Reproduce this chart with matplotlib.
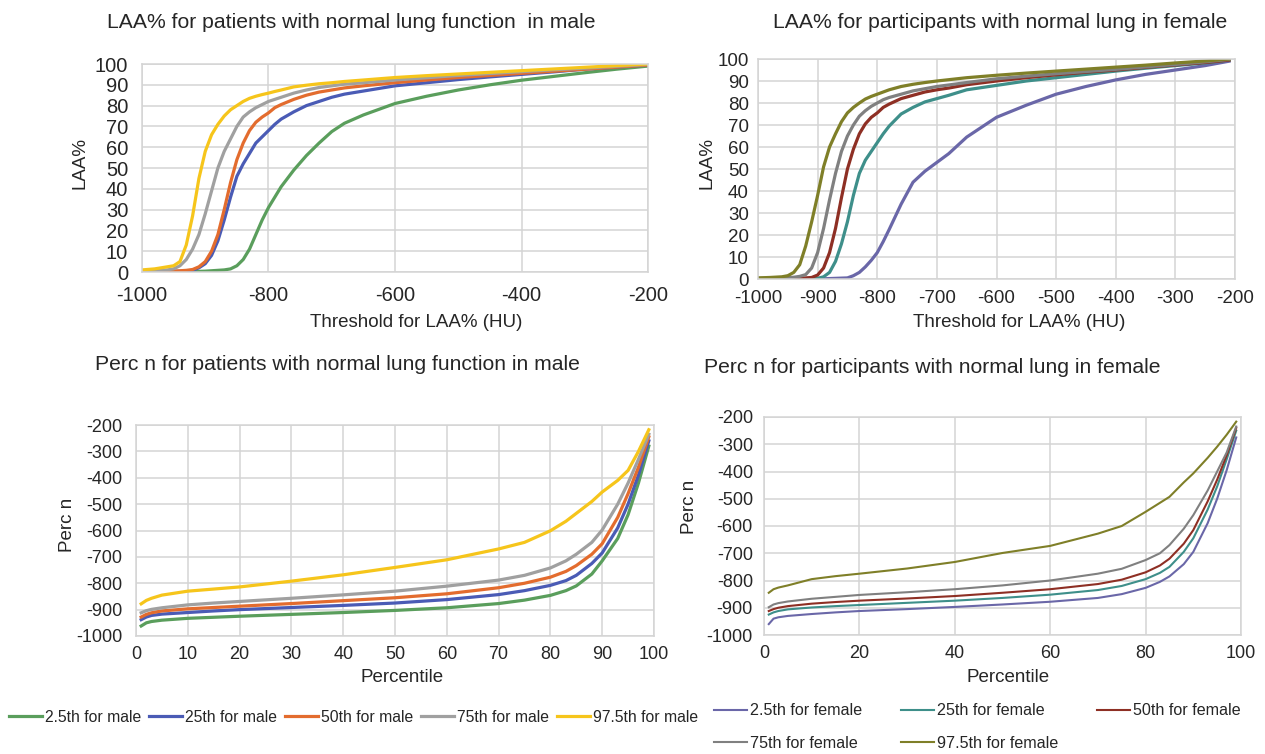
import matplotlib
matplotlib.use('Agg')
import matplotlib.pyplot as plt

plt.rcParams['font.family'] = ['Liberation Sans', 'DejaVu Sans']
plt.rcParams['axes.unicode_minus'] = False

# 阈值 (HU)
hu = [-1000, -980, -960, -950, -940, -930, -920, -910, -900, -890, -880, -870,
      -860, -850, -840, -830, -820, -810, -800, -790, -780, -760, -740, -720,
      -700, -680, -650, -600, -550, -500, -450, -400, -350, -300, -250, -200]
hu_f = hu[:-1] + [-210]

# LAA% male
laa_m_025 = [0, 0, 0.1, 0.1, 0.2, 0.2, 0.3, 0.3, 0.4, 0.6, 0.8, 1.0, 1.5, 3, 6, 11, 18, 25,
             31, 36, 41, 49, 56, 62, 67.5, 71.5, 75.5, 81, 84.5, 87.5, 90, 92.2, 94, 95.8, 97.5, 99]
laa_m_25 = [0, 0, 0.1, 0.2, 0.3, 0.4, 0.8, 2, 4, 8, 15, 25, 36, 46, 52, 57, 62, 65,
            68, 71, 73.5, 77, 80, 82, 84, 85.5, 87, 89.5, 91, 92.5, 93.8, 95, 96.2, 97.5, 98.5, 99.5]
laa_m_50 = [0.2, 0.3, 0.4, 0.5, 0.6, 0.8, 1.2, 2.5, 5, 10, 18, 30, 43, 54, 62, 68, 72, 74.5,
            76.5, 79, 80.5, 83, 85, 86.5, 87.5, 88.5, 89.5, 91, 92.3, 93.5, 94.5, 95.5, 96.5, 97.5, 98.5, 99.5]
laa_m_75 = [0.5, 0.7, 1, 1.5, 3, 6, 11, 18, 28, 39, 50, 58, 64, 70, 74.5, 77, 79, 80.5,
            82, 83, 84, 86, 87.5, 88.7, 89.5, 90.3, 91, 92.3, 93.4, 94.5, 95.4, 96.3, 97.2, 98, 98.9, 99.8]
laa_m_975 = [1, 1.5, 2.5, 3, 5, 13, 27, 45, 58, 66, 71, 75, 78, 80, 82, 83.5, 84.5, 85.3,
             86, 86.8, 87.5, 89, 89.8, 90.5, 91, 91.6, 92.3, 93.5, 94.4, 95.2, 96, 96.8, 97.6, 98.4, 99.2, 100]

# LAA% female
laa_f_025 = [0, 0, 0, 0, 0, 0, 0, 0.1, 0.1, 0.1, 0.2, 0.3, 0.4, 0.5, 1.5, 3, 5.5, 8.5,
             12, 17, 22.5, 34, 44, 49, 53, 57, 64.5, 73.5, 79, 84, 87.5, 90.5, 93, 95, 97, 99]
laa_f_25 = [0.1, 0.1, 0.1, 0.1, 0.1, 0.2, 0.2, 0.2, 0.3, 1, 3, 8, 16, 26, 38, 48, 54, 58,
            62, 66, 69.5, 75, 78, 80.5, 82, 83.5, 86, 88, 90, 91.5, 93, 94.5, 95.8, 97, 98.2, 99.5]
laa_f_50 = [0.2, 0.2, 0.3, 0.3, 0.3, 0.4, 0.5, 0.7, 1.8, 5, 12, 23, 37, 50, 59, 66, 70.5, 73.5,
            75.5, 78, 79.5, 82, 83.5, 85, 86, 86.8, 88.3, 90, 91.5, 92.8, 94, 95, 96.2, 97.3, 98.4, 99.5]
laa_f_75 = [0.3, 0.4, 0.5, 0.6, 0.8, 1.2, 2, 5, 12, 23, 36, 48, 58, 65, 70, 74, 76.5, 78.5,
            80, 81.5, 82.5, 84, 85.5, 86.5, 87.5, 88.2, 89.3, 91, 92.2, 93.3, 94.3, 95.3, 96.4, 97.5, 98.7, 99.8]
laa_f_975 = [0.5, 0.7, 1, 1.5, 3, 6.5, 15, 26, 38, 51, 60, 66, 71.5, 75.5, 78, 80, 81.8, 83,
             84, 85, 86, 87.5, 88.5, 89.3, 90, 90.6, 91.5, 92.6, 93.6, 94.5, 95.4, 96.3, 97.2, 98.2, 99.1, 100]

# Perc n
pct = [1, 2, 3, 5, 10, 15, 20, 30, 40, 50, 60, 70, 75, 80, 83, 85, 88, 90, 93, 95, 97, 99]
perc_m_025 = [-962, -950, -945, -940, -933, -929, -925, -918, -911, -903, -893, -877, -864, -846,
              -828, -810, -765, -715, -630, -540, -420, -280]
perc_m_25 = [-938, -928, -922, -917, -911, -905, -900, -892, -884, -875, -862, -843, -828, -808,
             -790, -770, -725, -685, -590, -500, -390, -260]
perc_m_50 = [-928, -918, -912, -905, -897, -892, -887, -877, -866, -855, -840, -817, -800, -777,
             -755, -733, -690, -650, -550, -460, -360, -245]
perc_m_75 = [-912, -904, -899, -893, -882, -875, -869, -857, -844, -830, -811, -788, -770, -742,
             -715, -690, -645, -598, -500, -420, -330, -235]
perc_m_975 = [-878, -865, -857, -845, -830, -822, -814, -792, -768, -740, -711, -670, -645, -601,
              -565, -535, -490, -454, -410, -372, -300, -218]

perc_f_025 = [-960, -940, -935, -930, -923, -917, -912, -905, -897, -888, -878, -864, -850, -827,
              -805, -785, -740, -695, -590, -500, -395, -275]
perc_f_25 = [-925, -917, -912, -906, -899, -894, -890, -882, -874, -864, -852, -835, -820, -795,
             -772, -750, -695, -645, -540, -455, -355, -250]
perc_f_50 = [-912, -905, -900, -894, -885, -879, -874, -866, -857, -845, -832, -813, -797, -770,
             -745, -720, -665, -615, -510, -430, -340, -240]
perc_f_75 = [-898, -888, -883, -877, -867, -860, -853, -843, -832, -818, -800, -775, -757, -725,
             -700, -670, -610, -560, -470, -400, -330, -235]
perc_f_975 = [-845, -832, -826, -818, -795, -784, -775, -756, -732, -699, -673, -628, -600, -548,
              -515, -493, -440, -407, -350, -309, -265, -217]

labels_m = ['2.5th for male', '25th for male', '50th for male', '75th for male', '97.5th for male']
labels_f = ['2.5th for female', '25th for female', '50th for female', '75th for female', '97.5th for female']
colors_m = ['#5A9E5C', '#4A5BB5', '#E36C2E', '#A0A0A0', '#F6C51B']
colors_f = ['#6A67A8', '#3E8F8A', '#8E2F24', '#808080', '#7F7F28']

txt = '#262626'
grid_c = '#D4D4D4'
W, H = 1265, 754


def box(x0, y0, x1, y1):
    # 像素坐标 -> figure 坐标
    return [x0 / W, 1 - y1 / H, (x1 - x0) / W, (y1 - y0) / H]


def put(x, y, s, size, rot=0):
    fig.text(x / W, 1 - y / H, s, ha='center', va='center', fontsize=size,
             color=txt, rotation=rot)


def style(ax, fs, xpad, ypad):
    ax.grid(True, color=grid_c, linewidth=1.1)
    ax.set_axisbelow(True)
    for s in ax.spines.values():
        s.set_color(grid_c)
        s.set_linewidth(1.1)
    ax.tick_params(length=0, labelsize=fs, colors=txt)
    ax.tick_params(axis='x', pad=xpad)
    ax.tick_params(axis='y', pad=ypad)


fig = plt.figure(figsize=(W / 100, H / 100), dpi=100)

# 左上
ax1 = fig.add_axes(box(142, 64, 648, 272))
for y, c in zip([laa_m_025, laa_m_25, laa_m_50, laa_m_75, laa_m_975], colors_m):
    ax1.plot(hu, y, color=c, lw=2.3)
ax1.set_xlim(-1000, -200)
ax1.set_ylim(0, 100)
ax1.set_xticks(range(-1000, -199, 200))
ax1.set_yticks(range(0, 101, 10))
style(ax1, 14.5, 10, 10)
put(351, 22, 'LAA% for patients with normal lung function  in male', 15.2)
put(416, 323, 'Threshold for LAA% (HU)', 13.5)
put(80, 163, 'LAA%', 13.5, 90)

# 右上
ax2 = fig.add_axes(box(758, 59, 1235, 279))
for y, c in zip([laa_f_025, laa_f_25, laa_f_50, laa_f_75, laa_f_975], colors_f):
    ax2.plot(hu_f, y, color=c, lw=2.3)
ax2.set_xlim(-1000, -200)
ax2.set_ylim(0, 100)
ax2.set_xticks(range(-1000, -199, 100))
ax2.set_yticks(range(0, 101, 10))
style(ax2, 13.5, 8, 6.5)
put(1000, 22, 'LAA% for participants with normal lung in female', 15.2)
put(1019, 323, 'Threshold for LAA% (HU)', 13.5)
put(707, 163, 'LAA%', 13.5, 90)

# 左下
ax3 = fig.add_axes(box(136, 425, 654, 636))
lines_m = []
for y, c, lab in zip([perc_m_025, perc_m_25, perc_m_50, perc_m_75, perc_m_975], colors_m, labels_m):
    l, = ax3.plot(pct, y, color=c, lw=2.3, label=lab)
    lines_m.append(l)
ax3.set_xlim(0, 100)
ax3.set_ylim(-1000, -200)
ax3.set_xticks(range(0, 101, 10))
ax3.set_yticks(range(-1000, -199, 100))
style(ax3, 13, 7, 10)
put(337, 365, 'Perc n for patients with normal lung function in male', 15.2)
put(402, 678, 'Percentile', 13.5)
put(67, 525, 'Perc n', 13.5, 90)
fig.legend(lines_m, labels_m, loc='center left', bbox_to_anchor=(9 / W, 1 - 717 / H),
           ncol=5, frameon=False, fontsize=11.3, handlelength=2.1, handletextpad=0.2,
           columnspacing=0.5, borderpad=0, borderaxespad=0, labelcolor=txt)

# 右下
ax4 = fig.add_axes(box(764, 417, 1241, 635))
lines_f = []
for y, c, lab in zip([perc_f_025, perc_f_25, perc_f_50, perc_f_75, perc_f_975], colors_f, labels_f):
    l, = ax4.plot(pct, y, color=c, lw=1.5, label=lab)
    lines_f.append(l)
ax4.set_xlim(0, 100)
ax4.set_ylim(-1000, -200)
ax4.set_xticks(range(0, 101, 20))
ax4.set_yticks(range(-1000, -199, 100))
style(ax4, 13, 7, 8)
put(932, 368, 'Perc n for participants with normal lung in female', 15.2)
put(1008, 678, 'Percentile', 13.5)
put(690, 507, 'Perc n', 13.5, 90)
order = [0, 3, 1, 4, 2]
fig.legend([lines_f[i] for i in order], [labels_f[i] for i in order], loc='center left',
           bbox_to_anchor=(714 / W, 1 - 727 / H), ncol=3, frameon=False, fontsize=11.6,
           handlelength=2.05, handletextpad=0.2, columnspacing=2.4, labelspacing=1.1,
           borderpad=0, borderaxespad=0, labelcolor=txt)

fig.savefig('out.png', dpi=100)
